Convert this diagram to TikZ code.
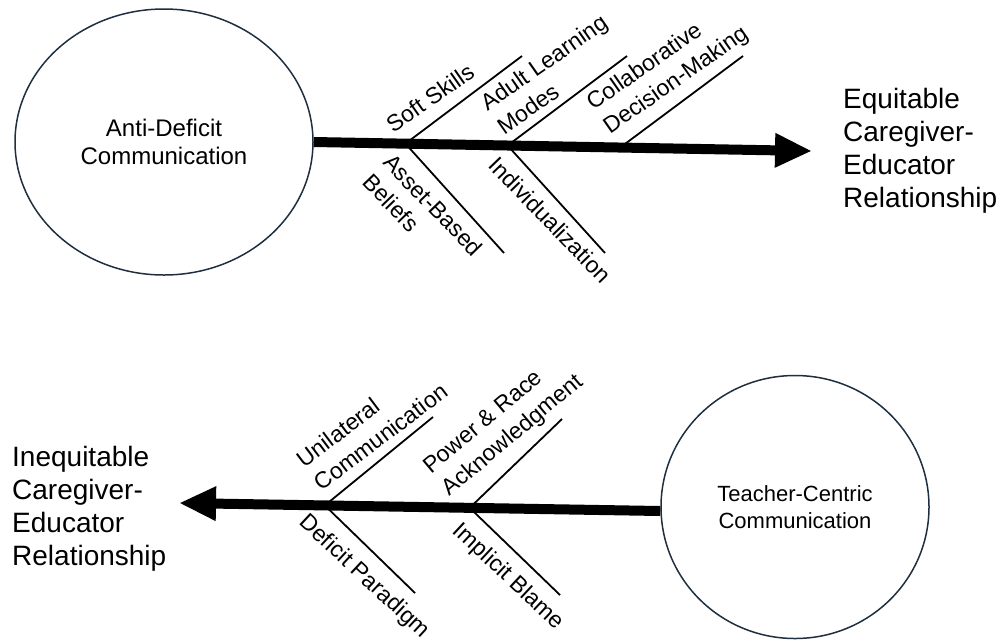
\documentclass[tikz,border=0pt]{standalone}
\usepackage{fontspec}
\setmainfont{Liberation Sans}
\usetikzlibrary{shapes.geometric,arrows.meta,calc}
\definecolor{ringblue}{HTML}{1F2F3F}
\begin{document}
\begin{tikzpicture}[x=1pt,y=-1pt,
  cause/.style={ellipse,draw=ringblue,line width=1.5pt,inner sep=0pt,align=center},
  spine/.style={line width=10pt,-{Triangle[length=37pt,width=32pt]}},
  rib/.style={line width=1.8pt},
  lbl/.style={inner sep=0pt,align=left,font=\fontsize{23}{29}\selectfont},
  effect/.style={inner sep=0pt,align=left,anchor=west,font=\fontsize{28}{33}\selectfont}]
\useasboundingbox (0,0) rectangle (1000,641);

% ---------- upper fishbone: anti-deficit communication ----------
\node[cause,minimum width=298pt,minimum height=266pt,font=\fontsize{24}{28}\selectfont]
  (adc) at (164,142) {Anti-Deficit\\Communication};
\coordinate (tipA) at (812,151);
\draw[spine] (adc.east) -- (tipA);
\node[effect] (eqr) at (843,151) {Equitable\\Caregiver-\\Educator\\Relationship};

\coordinate (a1) at ($(adc.east)!0.184!(tipA)$);
\coordinate (a2) at ($(adc.east)!0.389!(tipA)$);
\coordinate (a3) at ($(adc.east)!0.615!(tipA)$);
\coordinate (a1u) at (522,56);
\coordinate (a2u) at (627,56);
\coordinate (a3u) at (743,56);
\coordinate (a1d) at (504,253);
\coordinate (a2d) at (605,253);
\draw[rib] (a1) -- (a1u);
\draw[rib] (a2) -- (a2u);
\draw[rib] (a3) -- (a3u);
\draw[rib] (a1) -- (a1d);
\draw[rib] (a2) -- (a2d);

\node[lbl,rotate=35] (soft) at (430,98) {Soft Skills};
\node[lbl,rotate=35] (adult) at (552,74) {Adult Learning\\Modes};
\node[lbl,rotate=35] (collab) at (668,69) {Collaborative\\Decision-Making};
\node[lbl,rotate=-46] (asset) at (423,215) {Asset-Based\\Beliefs};
\node[lbl,rotate=-46] (indiv) at (550,220) {Individualization};

% ---------- lower fishbone: teacher-centric communication ----------
\node[cause,minimum width=268pt,minimum height=263pt,font=\fontsize{22}{27}\selectfont]
  (tcc) at (795,507) {Teacher-Centric\\Communication};
\coordinate (tipB) at (179,503);
\draw[spine] ([yshift=-4pt]tcc.west) -- (tipB);
\node[effect] (ineq) at (12,509) {Inequitable\\Caregiver-\\Educator\\Relationship};

\coordinate (b1) at ($([yshift=-4pt]tcc.west)!0.697!(tipB)$);
\coordinate (b2) at ($([yshift=-4pt]tcc.west)!0.396!(tipB)$);
\coordinate (b1u) at (433,417);
\coordinate (b2u) at (562,419);
\coordinate (b1d) at (415,593);
\coordinate (b2d) at (560,595);
\draw[rib] (b1) -- (b1u);
\draw[rib] (b2) -- (b2u);
\draw[rib] (b1) -- (b1d);
\draw[rib] (b2) -- (b2d);

\node[lbl,rotate=37] (unil) at (372,425) {Unilateral\\Communication};
\node[lbl,rotate=40] (power) at (504,425) {Power \& Race\\Acknowledgment};
\node[lbl,rotate=-43] (defp) at (364,577) {Deficit Paradigm};
\node[lbl,rotate=-43] (blame) at (508,577) {Implicit Blame};
\end{tikzpicture}
\end{document}
